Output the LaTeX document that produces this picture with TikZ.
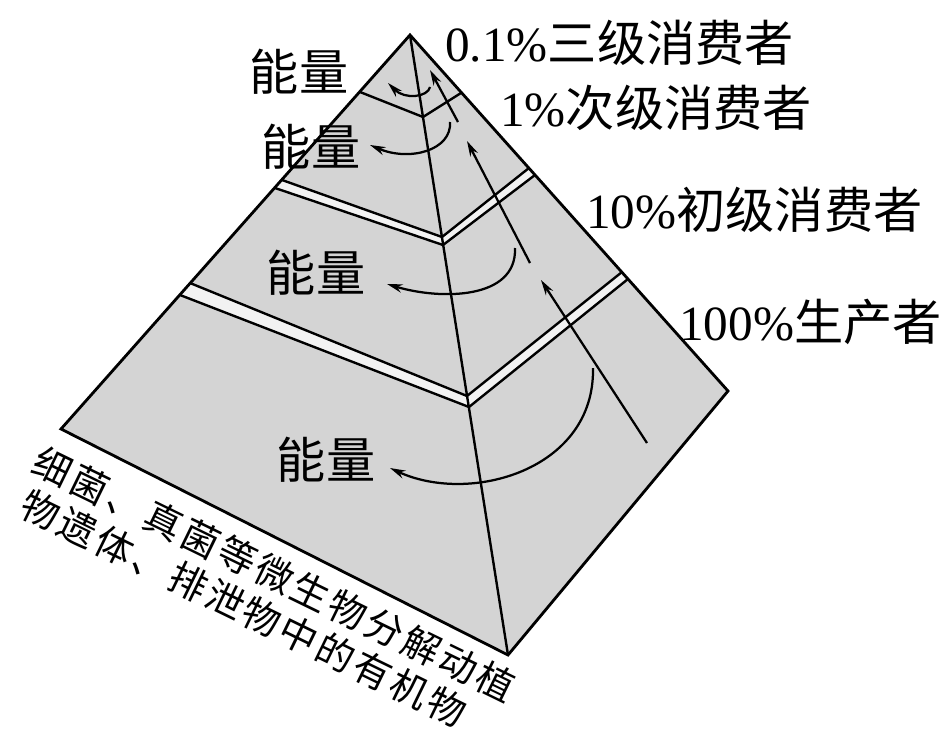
\documentclass[tikz,border=0pt]{standalone}
\usepackage{fontspec}
\setmainfont{Liberation Serif}
\newfontfamily\cjk{Noto Sans CJK SC}
\newfontfamily\cjkwide[LetterSpace=8]{Noto Sans CJK SC}
\usetikzlibrary{arrows.meta}
\definecolor{facegray}{RGB}{212,212,212}

\begin{document}
\begin{tikzpicture}
    [x=0.025cm,y=-0.025cm,
     lvl/.style={inner sep=0,anchor=west,font=\fontsize{35}{40}\selectfont},
     loss/.style={inner sep=0,font=\fontsize{35}{40}\selectfont\cjk},
     decomp/.style={inner sep=0,anchor=west,rotate=-26,font=\fontsize{27}{32}\selectfont\cjkwide},
     flow/.style={line width=1.6pt,-{Stealth[length=11pt,width=6pt]}},
     band/.style={line width=1.7pt,line join=miter}]
    \useasboundingbox (0,0) rectangle (949,730);
    \coordinate (apex) at (410,35);
    \coordinate (lc) at (61,429);
    \coordinate (bc) at (508,655);
    \coordinate (rc) at (728,391);
    \fill[facegray] (apex) -- (lc) -- (bc) -- (rc) -- cycle;
    % double lines between the levels
    \fill[black!5] (190,283) -- (467,396) -- (622,272) -- (628,279) -- (469,407) -- (180,295) -- cycle;
    \fill[black!5] (282,180) -- (442,237) -- (529,168) -- (535,175) -- (443,245) -- (275,188) -- cycle;
    \draw[band] (190,283) -- (467,396) -- (622,272);
    \draw[band] (180,295) -- (469,407) -- (628,279);
    \draw[band] (282,180) -- (442,237) -- (529,168);
    \draw[band] (275,188) -- (443,245) -- (535,175);
    \draw[band] (360,92) -- (423,117) -- (461,93);
    \draw[line width=2pt,line join=miter] (apex) -- (lc) -- (bc) -- (rc) -- cycle;
    \draw[band] (apex) -- (bc);
    % flow upwards
    \coordinate (a1) at (647,443);
    \coordinate (b1) at (541,280);
    \coordinate (a2) at (530,263);
    \coordinate (b2) at (467,141);
    \coordinate (a3) at (458,122);
    \coordinate (b3) at (430,70);
    \draw[flow] (a1) -- (b1);
    \draw[flow] (a2) -- (b2);
    \draw[flow] (a3) -- (b3);
    % energy lost
    \coordinate (s1) at (593,368);
    \coordinate (f1) at (390,468);
    \coordinate (s2) at (515,248);
    \coordinate (f2) at (387,284);
    \coordinate (s3) at (450,122);
    \coordinate (f3) at (370,145);
    \coordinate (s4) at (430,87);
    \coordinate (f4) at (388,83);
    \draw[flow] (s1) .. controls (595,470) and (470,505) .. (f1);
    \draw[flow] (s2) .. controls (517,300) and (440,300) .. (f2);
    \draw[flow] (s3) .. controls (452,150) and (410,162) .. (f3);
    \draw[flow] (s4) .. controls (428,97) and (405,100) .. (f4);
    \node[loss] (n4) at (299,72) {能量};
    \node[loss] (n3) at (311,147) {能量};
    \node[loss] (n2) at (316,273) {能量};
    \node[loss] (n1) at (326,460) {能量};
    \node[lvl] (tert) at (445,43) {0.1\%{\cjk 三级消费者}};
    \node[lvl] (sec) at (500,108) {1\%{\cjk 次级消费者}};
    \node[lvl] (prim) at (586,210) {10\%{\cjk 初级消费者}};
    \node[lvl] (prod) at (679,322) {100\%{\cjk 生产者}};
    \node[decomp] (dec1) at (36,458) {细菌、真菌等微生物分解动植};
    \node[decomp] (dec2) at (24,501) {物遗体、排泄物中的有机物};
  \end{tikzpicture}
\end{document}
